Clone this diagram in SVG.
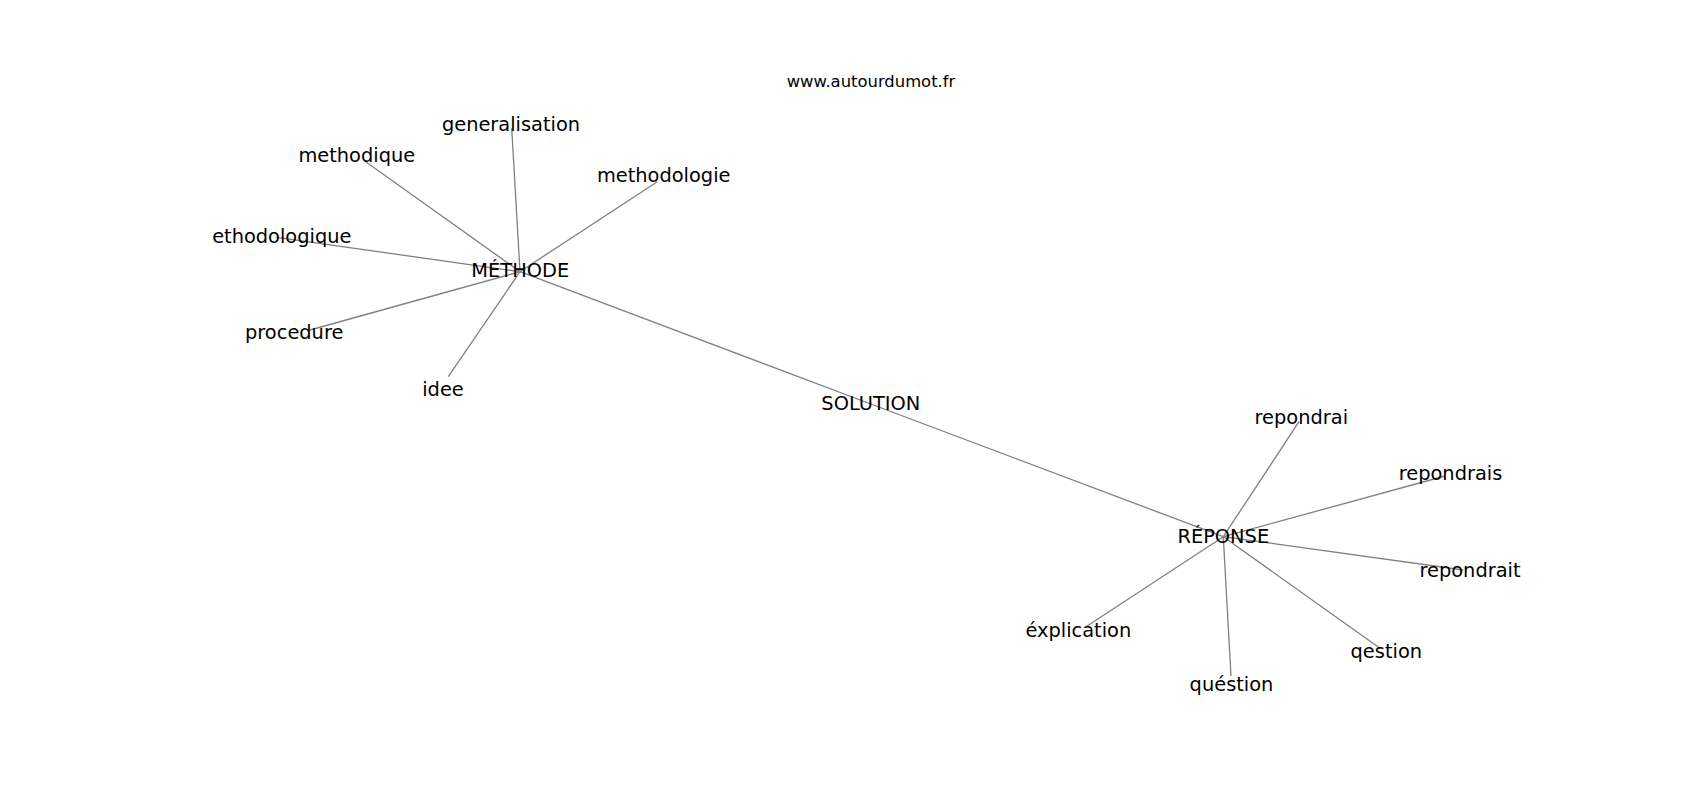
<svg xmlns="http://www.w3.org/2000/svg" width="1700" height="800" viewBox="0 0 1700 800">
<style>
.e{stroke:#808080;stroke-width:1.3;fill:none}
.t{font-family:"DejaVu Sans",sans-serif;font-size:19.4px;fill:#000;text-anchor:middle}
.w{font-family:"DejaVu Sans",sans-serif;font-size:16.4px;fill:#000;text-anchor:middle}
</style>
<rect width="1700" height="800" fill="#fff"/>
<text class="w" x="871" y="87">www.autourdumot.fr</text>
<g id="edges">
<line class="e" x1="520" y1="271.7" x2="511.7" y2="128.3"/>
<line class="e" x1="520" y1="271.7" x2="365.7" y2="161.7"/>
<line class="e" x1="520" y1="271.7" x2="657.3" y2="181.7"/>
<line class="e" x1="520" y1="271.7" x2="276.7" y2="237.3"/>
<line class="e" x1="520" y1="271.7" x2="310" y2="330"/>
<line class="e" x1="520" y1="271.7" x2="448.3" y2="376.7"/>
<line class="e" x1="520" y1="271.7" x2="870.8" y2="404"/>
<line class="e" x1="870.8" y1="404" x2="1223.3" y2="536.7"/>
<line class="e" x1="1223.3" y1="536.7" x2="1299" y2="421.7"/>
<line class="e" x1="1223.3" y1="536.7" x2="1445" y2="476"/>
<line class="e" x1="1223.3" y1="536.7" x2="1463.3" y2="570"/>
<line class="e" x1="1223.3" y1="536.7" x2="1380" y2="648.3"/>
<line class="e" x1="1223.3" y1="536.7" x2="1231" y2="676"/>
<line class="e" x1="1223.3" y1="536.7" x2="1086" y2="626.7"/>
</g>
<g id="n-generalisation"><text class="t" x="511" y="130.7">generalisation</text></g>
<g id="n-methodique"><text class="t" x="356.8" y="161.7">methodique</text></g>
<g id="n-methodologie"><text class="t" x="663.7" y="182.3">methodologie</text></g>
<g id="n-ethodologique"><text class="t" x="281.8" y="242.7">ethodologique</text></g>
<g id="n-methode"><text class="t" x="520.3" y="276.7">MÉTHODE</text></g>
<g id="n-procedure"><text class="t" x="294.2" y="339">procedure</text></g>
<g id="n-idee"><text class="t" x="443" y="396">idee</text></g>
<g id="n-solution"><text class="t" x="870.8" y="410">SOLUTION</text></g>
<g id="n-repondrai"><text class="t" x="1301.3" y="424">repondrai</text></g>
<g id="n-repondrais"><text class="t" x="1450.5" y="480">repondrais</text></g>
<g id="n-reponse"><text class="t" x="1223.3" y="542.7">RÉPONSE</text></g>
<g id="n-repondrait"><text class="t" x="1470" y="576.7">repondrait</text></g>
<g id="n-explication"><text class="t" x="1078.3" y="636.7">éxplication</text></g>
<g id="n-qestion"><text class="t" x="1386.3" y="658.3">qestion</text></g>
<g id="n-question"><text class="t" x="1231.5" y="690.7">quéstion</text></g>
</svg>
